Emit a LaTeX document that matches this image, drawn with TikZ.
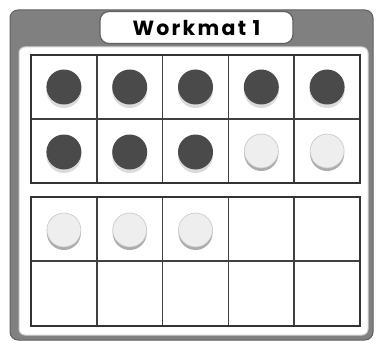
\documentclass[tikz,border=0pt]{standalone}
\usepackage{fontspec}
\newfontfamily\matfont{Poppins}[LetterSpace=11]
\usetikzlibrary{positioning}
\definecolor{MatGray}{RGB}{128,128,128}
\definecolor{DarkCounter}{RGB}{74,74,74}
\definecolor{LightCounter}{RGB}{238,238,238}

\begin{document}
\begin{tikzpicture}[x=1pt, y=-1pt,
    frame/.style={draw=MatGray!75!black, fill=MatGray, rounded corners=8pt, line width=1pt},
    panel/.style={draw=gray!35, fill=white, rounded corners=6pt, line width=1pt},
    titlebox/.style={draw=gray!75!black, fill=white, rounded corners=9pt, line width=1.2pt, minimum width=193pt, minimum height=32pt, font=\matfont\bfseries\fontsize{20.5}{20.5}\selectfont},
    tenframe/.style={draw=black!80, line width=2pt},
    cellline/.style={draw=black!75, line width=1.5pt},
    darkcounter/.style={circle, fill=DarkCounter, minimum size=35pt, inner sep=0pt},
    lightcounter/.style={circle, fill=LightCounter, draw=gray!45, line width=0.6pt, minimum size=34pt, inner sep=0pt}
  ]
    \useasboundingbox (0,0) rectangle (377,342);
    \draw[frame] (10,10) rectangle (373,340);
    \draw[panel] (19,47) rectangle (368,335);
    \node[titlebox] (title) at (196.5,27.5) {Workmat 1};

    % upper ten frame
    \foreach \i in {1,...,4}
      \draw[cellline] ({31+65.8*\i},55) -- ({31+65.8*\i},183);
    \draw[cellline] (31,119) -- (360,119);
    \draw[tenframe] (31,55) rectangle (360,183);

    % lower ten frame
    \foreach \i in {1,...,4}
      \draw[cellline] ({31+65.8*\i},197) -- ({31+65.8*\i},326);
    \draw[cellline] (31,261) -- (360,261);
    \draw[tenframe] (31,197) rectangle (360,326);

    % dark counters
    \foreach \c/\x/\y in {1/1/87, 2/2/87, 3/3/87, 4/4/87, 5/5/87, 6/1/152, 7/2/152, 8/3/152} {
      \fill[gray!28] ({31+65.8*(\x-0.5)},\y+3.5) circle (17.5pt);
      \node[darkcounter] (dark\c) at ({31+65.8*(\x-0.5)},\y) {};
    }

    % light counters
    \foreach \c/\x/\y in {1/4/151, 2/5/151, 3/1/230, 4/2/230, 5/3/230} {
      \fill[gray!65] ({31+65.8*(\x-0.5)},\y+3) circle (17pt);
      \node[lightcounter] (light\c) at ({31+65.8*(\x-0.5)},\y) {};
    }
  \end{tikzpicture}
\end{document}
